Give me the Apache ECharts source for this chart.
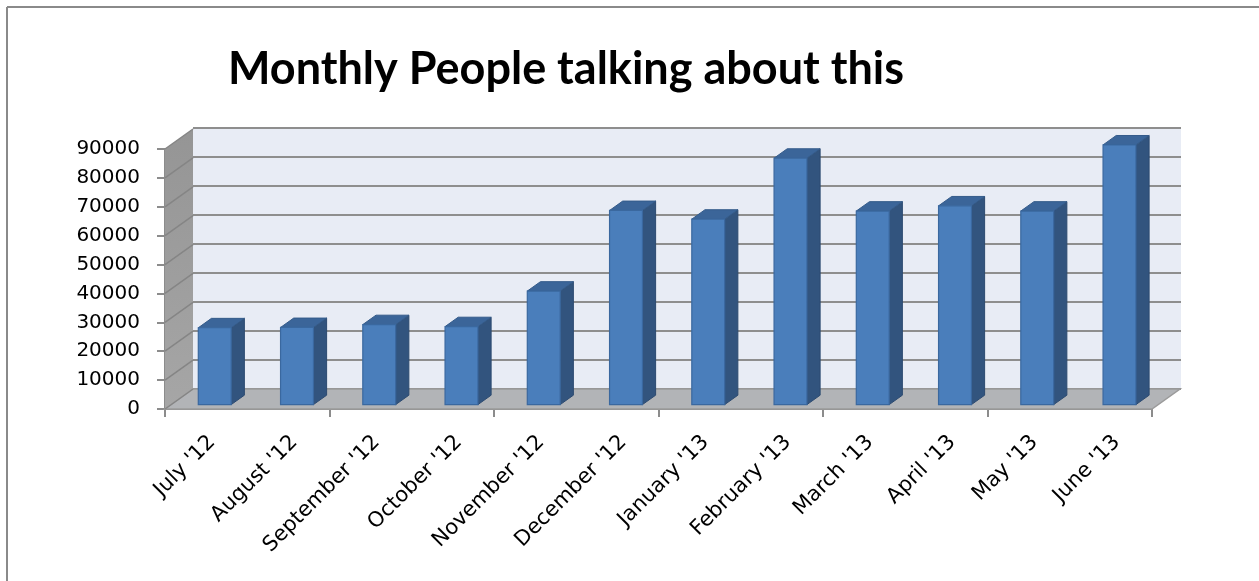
<!DOCTYPE html>
<html><head><meta charset="utf-8">
<script src="https://cdn.jsdelivr.net/npm/echarts@6/dist/echarts.min.js"></script>
<style>html,body{margin:0;padding:0;background:#fff}#c{width:1259px;height:581px}</style>
</head><body><div id="c"></div>
<script>
// ---- data ----
const categories = ["July '12", "August '12", "September '12", "October '12", "November '12", "December '12",
  "January '13", "February '13", "March '13", "April '13", "May '13", "June '13"];
const talking = [26600, 26700, 27700, 27000, 39300, 67200, 64200, 85300, 67000, 68800, 67000, 89900];
const yMin = 0, yMax = 90000, yStep = 10000;
const titleText = 'Monthly People talking about this';

// ---- 3D look ----
const DEPTH = [28, -20];      // front plane -> back wall offset (px)
const F0 = 0.22, F1 = 0.69;   // bar front/back depth fractions
const AXIS_GREY = '#8c8c8c';
const LABEL_FONT = 'DejaVu Sans';

const chart = echarts.init(document.getElementById('c'));

function renderWalls(params, api) {
  const n = categories.length;
  const band = api.size([1, 0])[0];
  const first = api.coord([0, yMin]);
  const last = api.coord([n - 1, yMin]);
  const xl = first[0] - band / 2, xr = last[0] + band / 2;
  const y0 = first[1], yT = api.coord([0, yMax])[1];
  const dx = DEPTH[0], dy = DEPTH[1];
  const children = [];
  children.push({ type: 'polygon', shape: { points: [[xl, y0], [xr, y0], [xr + dx, y0 + dy], [xl + dx, y0 + dy]] },
    style: { fill: '#b2b4b7', stroke: '#9b9b9b', lineWidth: 1.5 } });
  children.push({ type: 'polygon', shape: { points: [[xl, y0], [xl, yT], [xl + dx, yT + dy], [xl + dx, y0 + dy]] },
    style: { fill: { type: 'linear', x: 0, y: 0, x2: 0, y2: 1, colorStops: [{ offset: 0, color: '#959595' }, { offset: 1, color: '#a6a6a6' }] } } });
  for (let v = yMin; v <= yMax; v += yStep) {
    const y = api.coord([0, v])[1];
    children.push({ type: 'line', shape: { x1: xl, y1: y, x2: xl + dx, y2: y + dy }, style: { stroke: '#858585', lineWidth: 1.5 } });
  }
  return { type: 'group', children };
}

function renderBar(params, api) {
  const i = api.value(0), v = api.value(1);
  const band = api.size([1, 0])[0];
  const w = band * 0.4;
  const base = api.coord([i, 0]), top = api.coord([i, v]);
  const fx = DEPTH[0] * F0, fy = DEPTH[1] * F0;
  const bx = DEPTH[0] * (F1 - F0), by = DEPTH[1] * (F1 - F0);
  const cx = base[0] + fx + band * 0.03;
  const xl = cx - w / 2, xr = cx + w / 2, yb = base[1] + fy, yt = top[1] + fy;
  return { type: 'group', children: [
    { type: 'polygon', shape: { points: [[xr, yt], [xr + bx, yt + by], [xr + bx, yb + by], [xr, yb]] },
      style: { fill: '#32547e', stroke: '#2c4a70', lineWidth: 1 } },
    { type: 'polygon', shape: { points: [[xl, yt], [xr, yt], [xr + bx, yt + by], [xl + bx, yt + by]] },
      style: { fill: '#3b6599', stroke: '#345b8a', lineWidth: 1 } },
    { type: 'rect', shape: { x: xl, y: yt, width: w, height: yb - yt },
      style: { fill: '#4a7ebb', stroke: '#3a689f', lineWidth: 1.2 } }
  ] };
}

const option = {
  animation: false,
  backgroundColor: '#ffffff',
  title: { text: titleText, left: 223, top: 42,
    textStyle: { fontFamily: 'Lato', fontWeight: 'bold', fontSize: 45, color: '#000' } },
  graphic: [
    { type: 'line', shape: { x1: 7, y1: 7, x2: 1259, y2: 7 }, style: { stroke: '#8a8a8a', lineWidth: 2 } },
    { type: 'line', shape: { x1: 7, y1: 7, x2: 7, y2: 581 }, style: { stroke: '#8a8a8a', lineWidth: 2 } }
  ],
  grid: [
    { left: 193, right: 78, top: 128, bottom: 192, show: true, backgroundColor: '#e8ecf5', borderWidth: 0 },
    { left: 165, right: 107, top: 149, bottom: 172 },
    { left: 171, right: 101, top: 149, bottom: 172 }
  ],
  xAxis: [
    { gridIndex: 0, type: 'category', data: categories, show: false },
    { gridIndex: 1, type: 'category', data: categories, boundaryGap: true,
      axisLine: { lineStyle: { color: AXIS_GREY, width: 2 } },
      axisTick: { show: true, length: 8, lineStyle: { color: AXIS_GREY, width: 2 } },
      axisLabel: { show: false } },
    { gridIndex: 2, type: 'category', data: categories, boundaryGap: true,
      axisLine: { show: false }, axisTick: { show: false },
      axisLabel: { interval: 0, rotate: 45, margin: 30, fontFamily: LABEL_FONT, fontSize: 21, color: '#000' } }
  ],
  yAxis: [
    { gridIndex: 0, type: 'value', min: yMin, max: yMax, interval: yStep,
      axisLine: { show: false }, axisTick: { show: false }, axisLabel: { show: false },
      splitLine: { show: true, lineStyle: { color: '#8e8e8e', width: 2 } } },
    { gridIndex: 1, type: 'value', min: yMin, max: yMax, interval: yStep,
      axisLine: { show: true, lineStyle: { color: AXIS_GREY, width: 2 } },
      axisTick: { show: true, length: 8, lineStyle: { color: AXIS_GREY, width: 2 } },
      axisLabel: { margin: 25, fontFamily: LABEL_FONT, fontSize: 20, color: '#000', formatter: v => String(v) },
      splitLine: { show: false } },
    { gridIndex: 2, type: 'value', min: yMin, max: yMax, interval: yStep, show: false }
  ],
  series: [
    { type: 'custom', name: 'walls', xAxisIndex: 1, yAxisIndex: 1, z: 1, silent: true,
      renderItem: renderWalls, data: [[0, 0]], clip: false },
    { type: 'custom', name: 'People talking about this', xAxisIndex: 1, yAxisIndex: 1, z: 3,
      renderItem: renderBar, encode: { x: 0, y: 1 }, clip: false,
      data: talking.map((v, i) => [i, v]) }
  ]
};
chart.setOption(option);
</script></body></html>
